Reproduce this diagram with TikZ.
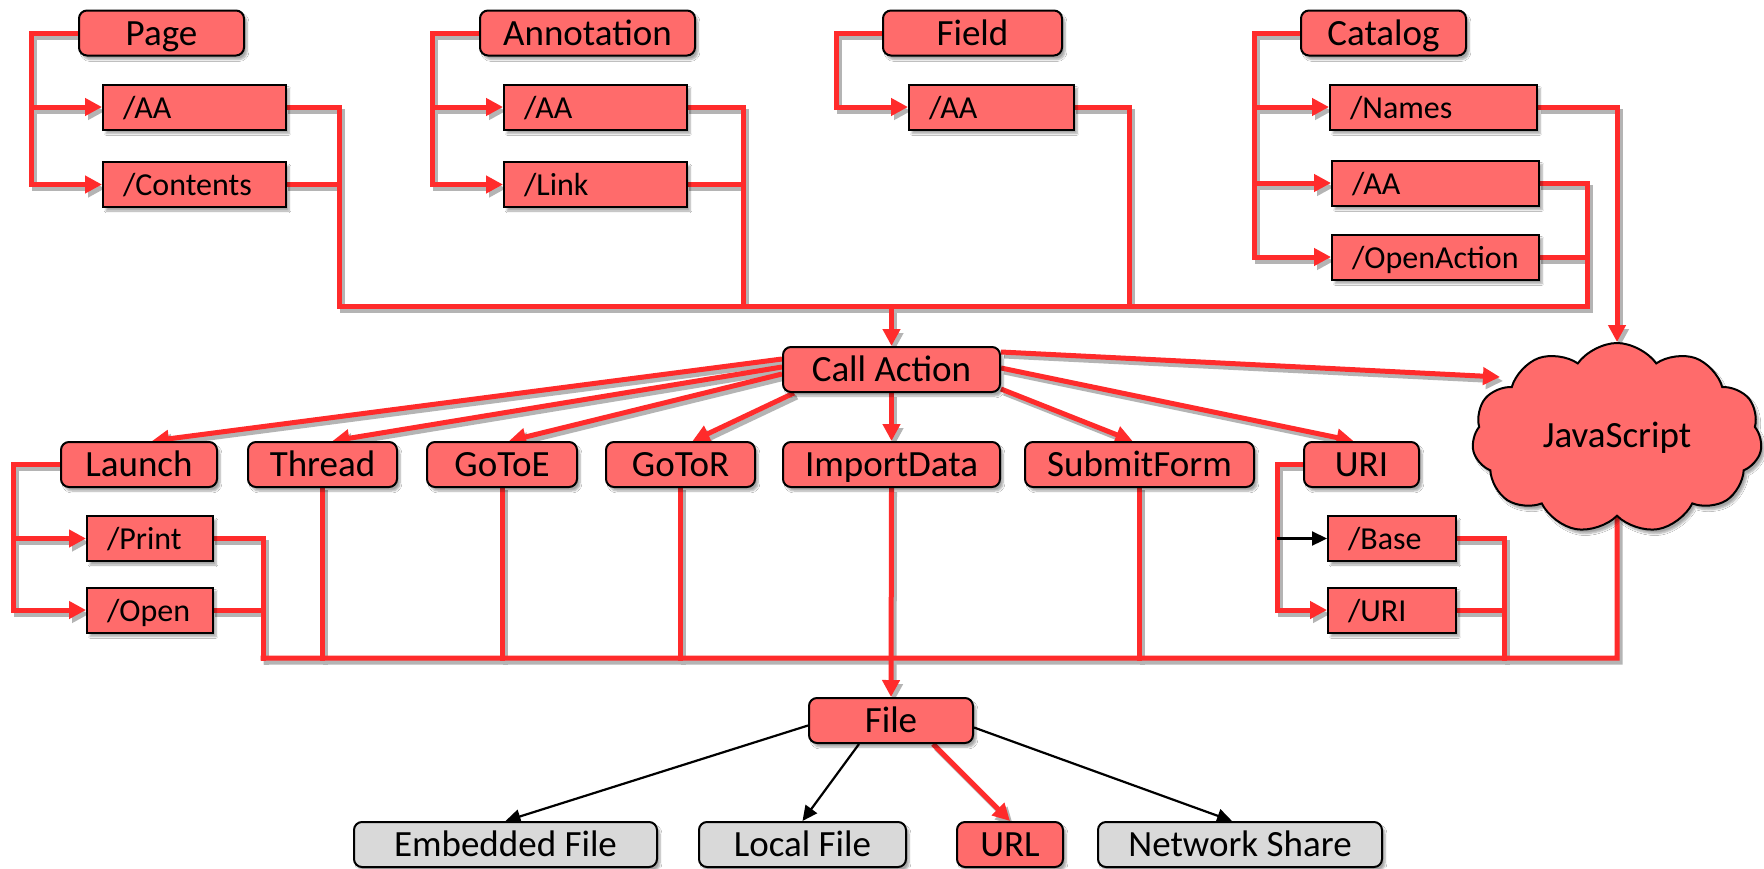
\documentclass[tikz,border=0pt]{standalone}
\usepackage{fontspec}
\setmainfont{Carlito}
\usetikzlibrary{arrows.meta,shapes.symbols,calc,shadows.blur,backgrounds}
\definecolor{boxred}{HTML}{FF6B6B}
\definecolor{linered}{HTML}{FF2B2B}
\definecolor{boxgray}{HTML}{D9D9D9}
\definecolor{shadowgray}{HTML}{B4B4B4}

\tikzset{
  boxbase/.style={draw=black, line width=2pt, minimum height=45pt, inner sep=0pt,
    blur shadow={shadow xshift=3pt, shadow yshift=-4pt, shadow opacity=35, shadow blur steps=6}},
  hbox/.style={boxbase, rounded corners=8pt, fill=boxred, font=\fontsize{37}{40}\selectfont,
    text height=29pt, text depth=5pt},
  gbox/.style={hbox, fill=boxgray},
  kbox/.style={boxbase, fill=boxred, font=\fontsize{32}{36}\selectfont, align=left,
    text width=#1, inner xsep=20pt, text height=26pt, text depth=3.5pt},
  rl/.style={draw=linered, line width=5pt, line cap=rect},
  ra/.style={draw=linered, line width=5pt, -{Triangle[length=17pt,width=17pt]}},
  ka/.style={draw=black, line width=2.2pt, -{Triangle[length=15pt,width=14pt]}},
  shadowlines/.style={
    rl/.style={draw=shadowgray, line width=5pt, line cap=rect},
    ra/.style={draw=shadowgray, line width=5pt, -{Triangle[length=17pt,width=17pt]}}},
}

% every red connector of the chart; drawn once as a shifted shadow, once in red
\newcommand\RedConnectors{%
  \draw[rl] (page.west) -- (pk) -- (pk |- pcon.west);
  \draw[ra] (pk |- paa.west) -- (paa.west);
  \draw[ra] (pk |- pcon.west) -- (pcon.west);
  \draw[rl] (annot.west) -- (ak) -- (ak |- alink.west);
  \draw[ra] (ak |- aaa.west) -- (aaa.west);
  \draw[ra] (ak |- alink.west) -- (alink.west);
  \draw[rl] (field.west) -- (fk) -- (fk |- faa.west);
  \draw[ra] (fk |- faa.west) -- (faa.west);
  \draw[rl] (cat.west) -- (ck) -- (ck |- copen.west);
  \draw[ra] (ck |- names.west) -- (names.west);
  \draw[ra] (ck |- caa.west) -- (caa.west);
  \draw[ra] (ck |- copen.west) -- (copen.west);
  \draw[rl] (launch.west) -- (lk) -- (lk |- open.west);
  \draw[ra] (lk |- print.west) -- (print.west);
  \draw[ra] (lk |- open.west) -- (open.west);
  \draw[rl] (uri.west) -- (uk) -- (uk |- uri2.west);
  \draw[ra] (uk |- uri2.west) -- (uri2.west);
  % upper collecting line
  \draw[rl] (paa.east) -| (tb1);
  \draw[rl] (pcon.east) -| (tb1);
  \draw[rl] (tb1) -- (tb4);
  \draw[rl] (aaa.east) -| (tb2);
  \draw[rl] (alink.east) -| (tb2);
  \draw[rl] (faa.east) -| (tb3);
  \draw[rl] (caa.east) -| (tb4);
  \draw[rl] (copen.east) -| (tb4);
  \draw[ra] (tbm) -- (ca.north);
  \draw[ra] (names.east) -| (jst);
  % Call Action fan-out
  \draw[ra] ($(ca.west)+(0,-10.5)$) -- ($(launch.north)+(13,0)$);
  \draw[ra] ($(ca.west)+(0,-2.5)$) -- ($(thread.north)+(10,0)$);
  \draw[ra] ($(ca.west)+(0,4.5)$) -- ($(gotoe.north)+(7,0)$);
  \draw[ra] ($(ca.south west)+(12,0)$) -- ($(gotor.north)+(12,0)$);
  \draw[ra] (ca.south) -- (import.north);
  \draw[ra] ($(ca.south east)+(0,-4)$) -- ($(submit.north)+(-7,0)$);
  \draw[ra] ($(ca.east)+(0,-1.5)$) -- ($(uri.north)+(-8,0)$);
  \draw[ra] ($(ca.east)+(0,-17.5)$) -- (jsw);
  % lower collecting line
  \draw[rl] (print.east) -| (bb1);
  \draw[rl] (open.east) -| (bb1);
  \draw[rl] (bb1) -- (bbj) -- (js.south);
  \draw[rl] (thread.south) -- (thread.south |- bb1);
  \draw[rl] (gotoe.south) -- (gotoe.south |- bb1);
  \draw[rl] (gotor.south) -- (gotor.south |- bb1);
  \draw[rl] (submit.south) -- (submit.south |- bb1);
  \draw[rl] (base.east) -| (bbu);
  \draw[rl] (uri2.east) -| (bbu);
  \draw[ra] (import.south) -- (file.north);
  \draw[ra] ($(file.south)+(42,0)$) -- (url.north);
}

\begin{document}
\begin{tikzpicture}[x=1pt, y=-1pt]
\useasboundingbox (0,0) rectangle (1764,868);

% ---- sources of actions ----
\node[hbox, minimum width=165pt] (page) at (161.5,33) {Page};
\node[kbox=143pt] (paa) at (194.5,107) {/AA};
\node[kbox=143pt] (pcon) at (194.5,184.5) {/Contents};

\node[hbox, minimum width=215pt] (annot) at (587.5,33) {Annotation};
\node[kbox=143pt] (aaa) at (595.5,107) {/AA};
\node[kbox=143pt] (alink) at (595.5,184.5) {/Link};

\node[hbox, minimum width=179pt] (field) at (972.5,33) {Field};
\node[kbox=125pt] (faa) at (991.5,107) {/AA};

\node[hbox, minimum width=165pt] (cat) at (1383.5,33) {Catalog};
\node[kbox=167pt] (names) at (1433.5,107) {/Names};
\node[kbox=167pt] (caa) at (1435.5,183) {/AA};
\node[kbox=167pt] (copen) at (1435.5,257) {/OpenAction};

% ---- action types ----
\node[hbox, minimum width=217pt] (ca) at (891.5,369.5) {Call Action};
\node[hbox, minimum width=156pt] (launch) at (139,464.5) {Launch};
\node[hbox, minimum width=149pt] (thread) at (322.5,464.5) {Thread};
\node[hbox, minimum width=150pt] (gotoe) at (502,464.5) {GoToE};
\node[hbox, minimum width=149pt] (gotor) at (680.5,464.5) {GoToR};
\node[hbox, minimum width=217pt] (import) at (891.5,464.5) {ImportData};
\node[hbox, minimum width=229pt] (submit) at (1139.5,464.5) {SubmitForm};
\node[hbox, minimum width=115pt] (uri) at (1361.5,464.5) {URI};
\node[kbox=86pt] (print) at (150,538.5) {/Print};
\node[kbox=86pt] (open) at (150,610) {/Open};
\node[kbox=88pt] (base) at (1392,538.5) {/Base};
\node[kbox=88pt] (uri2) at (1392,610) {/URI};
\node[cloud, draw=black, line width=2pt, fill=boxred, cloud puffs=11, cloud puff arc=110,
  aspect=1.5, minimum width=290pt, minimum height=190pt, inner sep=0pt,
  font=\fontsize{37}{40}\selectfont,
  blur shadow={shadow xshift=3pt, shadow yshift=-4pt, shadow opacity=35, shadow blur steps=6}]
  (js) at (1617,438) {JavaScript};

% ---- file targets ----
\node[hbox, minimum width=164pt] (file) at (891,720.5) {File};
\node[gbox, minimum width=303pt] (emb) at (505.5,844.5) {Embedded File};
\node[gbox, minimum width=207pt] (local) at (802.5,844.5) {Local File};
\node[hbox, minimum width=106pt] (url) at (1010,844.5) {URL};
\node[gbox, minimum width=284pt] (net) at (1240,844.5) {Network Share};

% ---- connectors ----
\begin{pgfonlayer}{background}
\fill[white] (0,0) rectangle (1764,868);

% bracket corners and collecting points
\coordinate (pk) at (31,33);
\coordinate (ak) at (432,33);
\coordinate (fk) at (836,33);
\coordinate (ck) at (1254,33);
\coordinate (lk) at (13,464.5);
\coordinate (uk) at (1277,464.5);
\coordinate (tb1) at (339,306);
\coordinate (tb2) at (743,306);
\coordinate (tb3) at (1129,306);
\coordinate (tb4) at (1587,306);
\coordinate (tbm) at (891.5,306);
\coordinate (jst) at (js.north);
\coordinate (jsw) at (1500,377);
\coordinate (bb1) at (263,658);
\coordinate (bbu) at (1504,658);
\coordinate (bbj) at (1617,658);

\begin{scope}[transform canvas={xshift=3pt, yshift=-4pt}, shadowlines]
  \RedConnectors
\end{scope}
\RedConnectors

\draw[ka] (uk |- base.west) -- (base.west);

% File outcomes
\draw[ka] ($(file.west)+(0,5)$) -- (emb.north);
\draw[ka] ($(file.south)+(-32,0)$) -- (local.north);
\draw[ka] ($(file.east)+(0,7)$) -- ($(net.north)+(-8,0)$);
\end{pgfonlayer}
\end{tikzpicture}
\end{document}
